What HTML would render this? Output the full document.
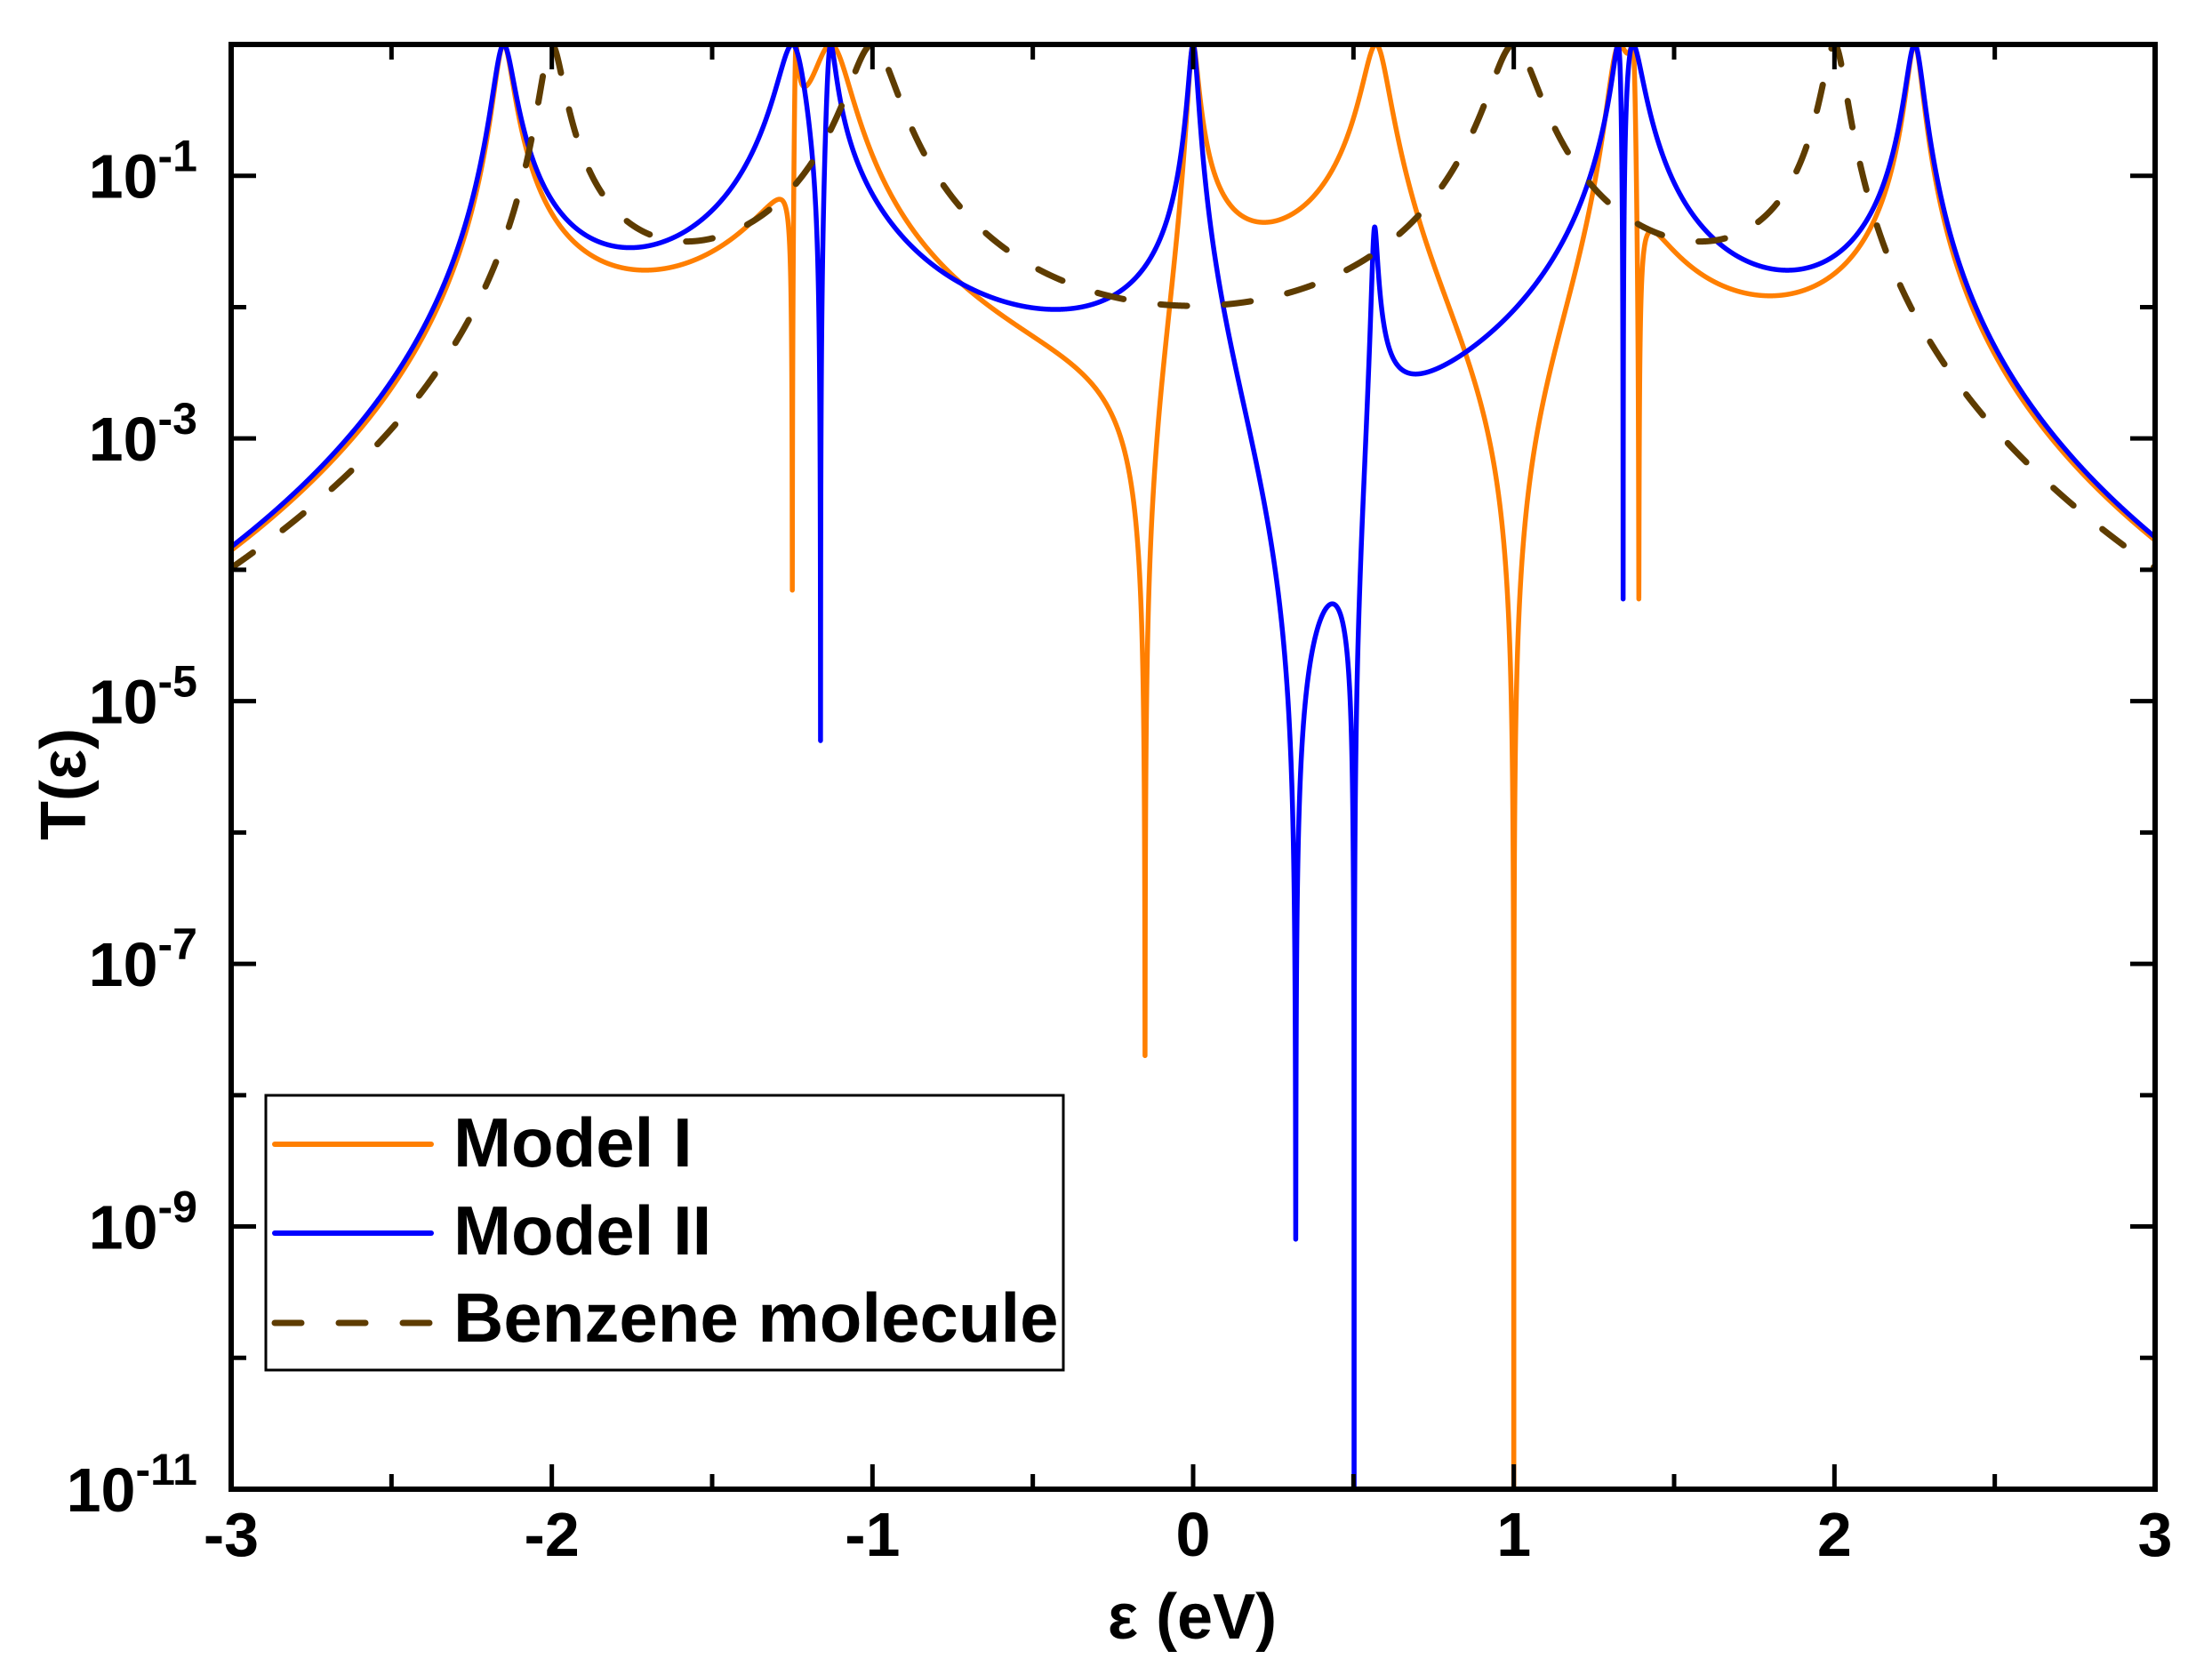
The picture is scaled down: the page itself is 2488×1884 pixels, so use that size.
<!DOCTYPE html>
<html><head><meta charset="utf-8">
<style>
html,body{margin:0;padding:0;background:#fff;overflow:hidden;width:2488px;height:1884px;}
svg{display:block;}
text{font-family:"Liberation Sans",Arial,sans-serif;font-weight:bold;fill:#000;}
</style></head>
<body>
<svg id="s" width="2488" height="1884" viewBox="0 0 2488 1884" xmlns="http://www.w3.org/2000/svg">
<defs><clipPath id="c"><rect x="260" y="50" width="2164" height="1625"/></clipPath></defs>
<rect width="2488" height="1884" fill="#fff"/>
<g id="curves" clip-path="url(#c)"></g>
<g id="axes"></g>
<g id="legend">
<rect x="299" y="1232" width="897" height="309" fill="#fff" stroke="#000" stroke-width="3"/>
<line x1="309" y1="1287" x2="485" y2="1287" stroke="#FF7F00" stroke-width="6" stroke-linecap="round"/>
<line x1="309" y1="1387" x2="485" y2="1387" stroke="#0000FF" stroke-width="6" stroke-linecap="round"/>
<line x1="309" y1="1488" x2="485" y2="1488" stroke="#5E3C00" stroke-width="7" stroke-linecap="round" stroke-dasharray="30 42"/>
<text x="510" y="1312" font-size="78">Model I</text>
<text x="510" y="1411" font-size="78">Model II</text>
<text x="510" y="1509" font-size="78">Benzene molecule</text>
</g>
<text x="1341" y="1843" font-size="72" text-anchor="middle">ε (eV)</text>
<text transform="translate(96,882) rotate(-90)" font-size="72" text-anchor="middle">T(ε)</text>
</svg>
<script>
(function(){
var NS="http://www.w3.org/2000/svg";
var X0=260,X1=2424,Y0=50,YB=1675,DEC=(YB-Y0)/11;
function px(E){return X0+(E+3)*(X1-X0)/6;}
function py(T){var l=Math.log10(Math.max(T,1e-14));return Y0-l*DEC;}
function mk(def){
  var poles=def.poles;
  function raw(E,skip){
    var v=def.A;
    def.zeros.forEach(function(z){v*=(E-z);});
    (def.sq||[]).forEach(function(s){v*=Math.sqrt((E-s.c)*(E-s.c)+s.d*s.d);});
    poles.forEach(function(q,i){if(i!==skip)v/=(E-q.p);});
    return v;
  }
  poles.forEach(function(q,i){
    var C=Math.abs(raw(q.p,i));
    q.eta=q.min>0?Math.sqrt(q.min)*C:0;
  });
  return function(E){
    var v=def.A;
    def.zeros.forEach(function(z){v*=(E-z);});
    (def.sq||[]).forEach(function(s){v*=Math.sqrt((E-s.c)*(E-s.c)+s.d*s.d);});
    poles.forEach(function(q){var d=E-q.p;v/=Math.sqrt(d*d+q.eta*q.eta);});
    return 1/(1+v*v);
  };
}
var orange=mk({A:2.48,zeros:[-2.15,-1.238,-1.13,0,0.57,1.33,1.37,2.25],
  poles:[{p:-1.25,min:7e-5},{p:-0.15,min:2e-8},{p:1.0,min:0},{p:1.39,min:6e-5}]});
var blue=mk({A:2.57,zeros:[-2.15,-1.25,-1.13,0,1.325,1.372,2.25],sq:[{c:0.565,d:0.0081}],
  poles:[{p:-1.162,min:5e-6},{p:0.32,min:8e-10},{p:0.502,min:0},{p:1.341,min:6e-5}]});
var benz=function(E){var f=2.46*(E*E-1)*(E*E-4);return 1/(1+f*f);};
function path(fn,extra){
  var xs=[];var N=24000;
  for(var i=0;i<=N;i++)xs.push(-3+6*i/N);
  (extra||[]).forEach(function(e){xs.push(e);});
  xs.sort(function(a,b){return a-b;});
  var d="";
  xs.forEach(function(E,i){d+=(i?"L":"M")+px(E).toFixed(2)+","+py(fn(E)).toFixed(2);});
  return d;
}
var g=document.getElementById("curves");
function add(d,col,w,dash){
  var p=document.createElementNS(NS,"path");
  p.setAttribute("d",d);p.setAttribute("fill","none");p.setAttribute("stroke",col);
  p.setAttribute("stroke-width",w);p.setAttribute("stroke-linejoin","round");
  if(dash){p.setAttribute("stroke-dasharray",dash);p.setAttribute("stroke-linecap","round");}
  g.appendChild(p);
}
add(path(orange,[-1.25,-0.15,1.0,1.39]),"#FF7F00",5.5);
add(path(blue,[-1.162,0.32,0.502,1.341]),"#0000FF",5.5);
add(path(benz),"#5E3C00",7,"30 42");
var a=document.getElementById("axes");
function ln(x1,y1,x2,y2,w){var l=document.createElementNS(NS,"line");
  l.setAttribute("x1",x1);l.setAttribute("y1",y1);l.setAttribute("x2",x2);l.setAttribute("y2",y2);
  l.setAttribute("stroke","#000");l.setAttribute("stroke-width",w);a.appendChild(l);}
function tx(x,y,s,fs,anchor){var t=document.createElementNS(NS,"text");
  t.setAttribute("x",x);t.setAttribute("y",y);t.setAttribute("font-size",fs);
  if(anchor)t.setAttribute("text-anchor",anchor);t.textContent=s;a.appendChild(t);return t;}
for(var k=0;k<=12;k++){
  var E=-3+k*0.5,x=px(E),L=(k%2==0)?28:17;
  ln(x,YB,x,YB-L,5);ln(x,Y0,x,Y0+L,5);
  if(k%2==0)tx(x,1750,String(E),70,"middle");
}
for(var e=0;e<=11;e++){
  var y=Y0+e*DEC,L=(e%2==1)?28:17;
  ln(260,y,260+L,y,5);ln(2424,y,2424-L,y,5);
  if(e%2==1){
    var t=document.createElementNS(NS,"text");
    t.setAttribute("y",y+25);t.setAttribute("font-size",70);t.setAttribute("text-anchor","end");t.setAttribute("x",222);
    var s1=document.createElementNS(NS,"tspan");s1.textContent="10";
    var s2=document.createElementNS(NS,"tspan");s2.textContent="-"+e;s2.setAttribute("font-size",50);s2.setAttribute("dy",-30);
    t.appendChild(s1);t.appendChild(s2);a.appendChild(t);
  }
}
var r=document.createElementNS(NS,"rect");
r.setAttribute("x",260);r.setAttribute("y",Y0);r.setAttribute("width",2164);r.setAttribute("height",YB-Y0);
r.setAttribute("fill","none");r.setAttribute("stroke","#000");r.setAttribute("stroke-width",6);a.appendChild(r);
})();
</script>
</body></html>
